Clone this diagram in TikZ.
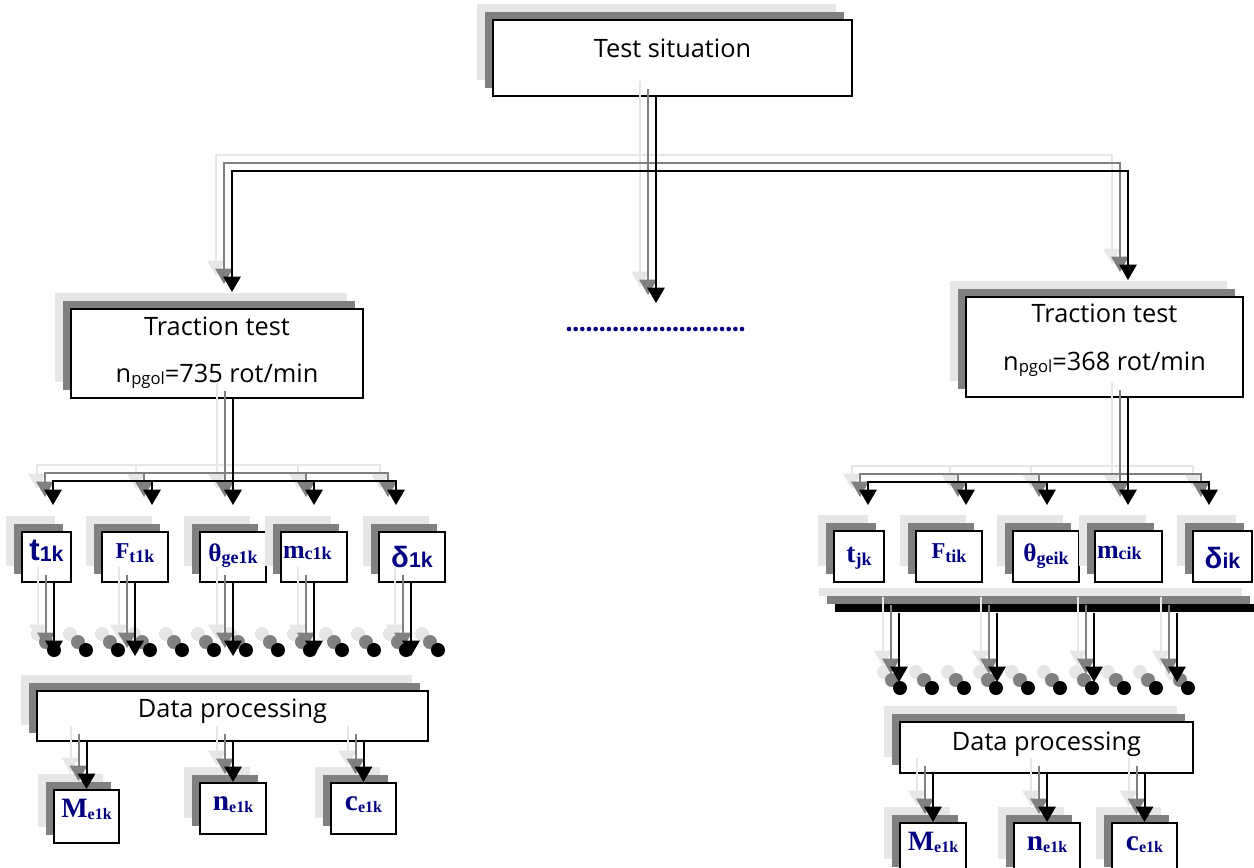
\documentclass[tikz,border=0pt]{standalone}
\usepackage{fontspec}
\setmainfont{Open Sans}
\newfontfamily\tms{Liberation Serif}
\newfontfamily\arl{Liberation Sans}
\usetikzlibrary{arrows.meta,shadows}
\definecolor{lightg}{RGB}{230,230,230}
\definecolor{darkg}{RGB}{128,128,128}
\definecolor{navyb}{RGB}{0,0,128}
\newlength\pxu \setlength\pxu{0.75pt}
\newcommand\fs[1]{\fontsize{#1}{#1}\selectfont}
\newcommand\rb[2]{\raisebox{-#1\pxu}[0pt][0pt]{#2}}
\newcommand\twol[4]{\rb{#1}{\makebox[0pt]{#2}}\rb{#3}{\makebox[0pt]{#4}}}
\newcommand\bx[7][]{%
  \pgfmathsetlengthmacro\bxw{(#5-#3)*0.75pt}%
  \pgfmathsetlengthmacro\bxh{(#6-#4)*0.75pt}%
  \node[box,#1,minimum width=\bxw,minimum height=\bxh] (#2) at ({(#3+#5)/2},{(#4+#6)/2}) {#7};}
\newcommand\tri[1]{%
  \begin{scope}[transform canvas={shift={(-12pt,12pt)}},lay/.style={color=lightg}]#1\end{scope}%
  \begin{scope}[transform canvas={shift={(-6pt,6pt)}},lay/.style={color=darkg}]#1\end{scope}%
  \begin{scope}[lay/.style={color=black}]#1\end{scope}}
\tikzset{
  box/.style={draw=black,line width=1.5pt,fill=white,inner sep=0pt,font=\fs{19},
    general shadow={shadow xshift=-12pt,shadow yshift=12pt,fill=lightg},
    general shadow={shadow xshift=-6pt,shadow yshift=6pt,fill=darkg}},
  sym/.style={text=navyb},
  barst/.style={draw=none,fill=black},
  lay/.style={},
  ln/.style={line width=1.5pt},
  cn/.style={line width=1.5pt,-{Triangle[width=13pt,length=11.5pt]}},
}
\begin{document}
\begin{tikzpicture}[x=0.75pt,y=-0.75pt]
\useasboundingbox (0,0) rectangle (1254,868);
\clip (0,0) rectangle (1254,868);
% main boxes
\bx{ts}{493}{20}{852}{96}{\rb{-1}{Test situation}}
\bx{tl}{71}{309}{363}{398}{\twol{-18.5}{Traction test}{28.5}{n\raisebox{-2pt}{\fs{12.5}pgol}=735 rot/min}}
\bx{tr}{966}{297}{1243}{397}{\twol{-25}{Traction test}{23}{n\raisebox{-2pt}{\fs{12.5}pgol}=368 rot/min}}
% left parameter boxes
\bx[sym]{t1}{22}{532}{71}{582}{\rb{3}{\arl\bfseries\fs{23.5}t\raisebox{-1pt}{\fs{16}1k}}}
\bx[sym]{F1}{102}{532}{168}{582}{\rb{1}{\tms\bfseries\fs{17}F\raisebox{-3pt}{\fs{13.5}t1k}}}
\bx[sym]{th1}{200}{532}{266}{582}{\rb{4}{\tms\bfseries\fs{19}θ\raisebox{-2pt}{\fs{13.5}ge1k}}}
\bx[sym]{m1}{281}{532}{347}{582}{\rb{1}{\makebox[62\pxu][l]{\tms\bfseries\fs{19.5}m\raisebox{-1pt}{\fs{13.5}c1k}}}}
\bx[sym]{d1}{379}{532}{445}{582}{\rb{10}{\arl\bfseries\fs{22}δ\fs{16}1k}}
% right parameter boxes
\bx[sym]{t2}{834}{531}{884}{582}{\rb{5.5}{\tms\bfseries\fs{20.5}t\raisebox{-2.5pt}{\fs{13.5}jk}}}
\bx[sym]{F2}{916}{531}{982}{582}{\rb{1.5}{\tms\bfseries\fs{17}F\raisebox{-3pt}{\fs{13.5}tik}}}
\bx[sym]{th2}{1013}{531}{1079}{582}{\rb{5}{\tms\bfseries\fs{19}θ\raisebox{-2pt}{\fs{13.5}geik}}}
\bx[sym]{m2}{1095}{531}{1162}{582}{\rb{1.5}{\makebox[63\pxu][l]{\tms\bfseries\fs{19.5}m\raisebox{-1pt}{\fs{13.5}cik}}}}
\bx[sym]{d2}{1193}{531}{1252}{582}{\rb{11.5}{\arl\bfseries\fs{22}δ\fs{16}ik}}
% bar
\bx[barst]{bar}{835}{604}{1258}{612}{}
% data processing
\bx{dpL}{37}{691}{428}{741}{\rb{1}{Data processing}}
\bx{dpR}{900}{722}{1193}{773}{\rb{2.5}{Data processing}}
% results
\bx[sym]{M1}{54}{790}{119}{843}{\rb{0.5}{\tms\bfseries\fs{21}M\raisebox{-2pt}{\fs{12}e1k}}}
\bx[sym]{n1}{200}{783}{266}{834}{\rb{1.5}{\tms\bfseries\fs{22}n\raisebox{-2pt}{\fs{12}e1k}}}
\bx[sym]{c1}{331}{783}{396}{834}{\rb{1.5}{\tms\bfseries\fs{22}c\raisebox{-2pt}{\fs{12}e1k}}}
\bx[sym]{M2}{900}{823}{966}{875}{\rb{1}{\tms\bfseries\fs{21}M\raisebox{-2pt}{\fs{12}e1k}}}
\bx[sym]{n2}{1014}{823}{1080}{875}{\rb{1}{\tms\bfseries\fs{22}n\raisebox{-2pt}{\fs{12}e1k}}}
\bx[sym]{c2}{1112}{823}{1177}{875}{\rb{1}{\tms\bfseries\fs{22}c\raisebox{-2pt}{\fs{12}e1k}}}
% dotted line in the middle
\foreach \k in {0,...,26} \fill[navyb] ({569+\k*6.654},329) circle (2.3);
% coordinates
\coordinate (j0) at (656,171);
\coordinate (a1) at (232,292);
\coordinate (a2) at (656,303);
\coordinate (a3) at (1128,280);
\coordinate (j1) at (233,481);
\coordinate (j2) at (1128,482);
\foreach \x [count=\i] in {53,152,233,314,396} \coordinate (e1\i) at (\x,505);
\foreach \x [count=\i] in {868,966,1047,1128,1209} \coordinate (e2\i) at (\x,505);
\foreach \x [count=\i] in {54,135,233,314,411} \coordinate (f\i) at (\x,656);
\foreach \x [count=\i] in {899,997,1094,1177} \coordinate (g\i) at (\x,682);
% connectors and dots, three layers
\tri{%
  \foreach \k in {0,...,12} \fill[lay] ({54+32*\k},650) circle (7);
  \foreach \k in {0,...,9} \fill[lay] ({900+32*\k},688) circle (7);
  \draw[ln,lay] (ts.south -| j0) -- (j0);
  \draw[cn,lay] (j0) -| (a1);
  \draw[cn,lay] (j0) -| (a3);
  \draw[cn,lay] (j0) -- (a2);
  \draw[ln,lay] (tl.south -| j1) -- (j1);
  \foreach \i in {1,...,5} \draw[cn,lay] (j1) -| (e1\i);
  \draw[ln,lay] (tr.south -| j2) -- (j2);
  \foreach \i in {1,...,5} \draw[cn,lay] (j2) -| (e2\i);
  \draw[cn,lay] (t1.south -| f1) -- (f1);
  \draw[cn,lay] (F1.south -| f2) -- (f2);
  \draw[cn,lay] (th1.south -| f3) -- (f3);
  \draw[cn,lay] (m1.south -| f4) -- (f4);
  \draw[cn,lay] (d1.south -| f5) -- (f5);
  \foreach \i in {1,...,4} \draw[cn,lay] (bar.south -| g\i) -- (g\i);
  \draw[cn,lay] (dpL.south -| M1.north) -- (M1.north);
  \draw[cn,lay] (dpL.south -| n1.north) -- (n1.north);
  \draw[cn,lay] (dpL.south -| c1.north) -- (c1.north);
  \draw[cn,lay] (dpR.south -| M2.north) -- (M2.north);
  \draw[cn,lay] (dpR.south -| n2.north) -- (n2.north);
  \draw[cn,lay] (dpR.south -| c2.north) -- (c2.north);
}
\end{tikzpicture}
\end{document}
